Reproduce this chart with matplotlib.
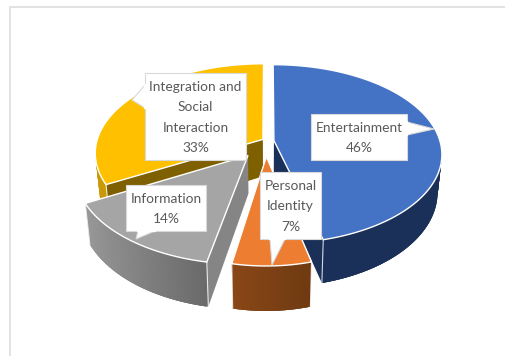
"""Exploded 3D-style pie of social media motivations."""

import matplotlib

matplotlib.use("Agg")
import matplotlib.pyplot as plt
import numpy as np
from matplotlib.colors import to_rgb

CATEGORIES = ["Entertainment", "Personal\nIdentity", "Information", "Integration and\nSocial\nInteraction"]
VALUES = [46, 7, 14, 33]

TOP_COLORS = ["#4472c4", "#ed7d31", "#a5a5a5", "#ffc000"]
WALL_LEFT = ["#1b3058", "#8a4716", "#989898", "#c99a06"]
WALL_RIGHT = ["#1b3058", "#6f3a12", "#6a6a6a", "#c99a06"]
FACE_COLORS = ["#1b3058", "#843c0c", "#858585", "#7f6000"]
EXPLODE = [0.036, 0.175, 0.2, 0.036]
WIDTH_SCALE = [1.0, 0.91, 1.0, 1.0]
NUDGE_U = [0.0, -0.015, 0.0, 0.0]

# Perspective projection of the pie plane, in pixels
CX, CY = 268.0, 141.0
RX, RY, PERSP = 166.0, 87.5, 0.151
DEPTH = 37.0
SHRINK = 0.975

# label boxes: x0, y0, x1, y1, then callout base and tip
BOXES = [
    (311, 114, 407, 160, [(407, 122), (434, 129), (407, 135)]),
    (260, 172, 321, 239, [(270, 239), (272, 265), (285, 239)]),
    (126, 185, 206, 231, [(138, 231), (136, 239), (155, 231)]),
    (145, 73, 246, 160, [(145, 85), (132, 100), (145, 108)]),
]


def project(u, v):
    denom = 1.0 + PERSP * v
    return CX + RX * u / denom, CY - RY * v / denom


def project_bottom(u, v):
    denom = 1.0 + PERSP * v
    x, y = project(u, v)
    return CX + (x - CX) * SHRINK, y + DEPTH / denom


def quad(ax, u, v, color, zorder):
    top = np.column_stack(project(u, v))
    bottom = np.column_stack(project_bottom(u, v))[::-1]
    ax.fill(*np.vstack([top, bottom]).T, color=color, lw=0, zorder=zorder)


def draw_slice(ax, idx, start, end, zorder):
    mid = (start + end) / 2
    off_u = EXPLODE[idx] * np.sin(mid) + NUDGE_U[idx]
    off_v = EXPLODE[idx] * np.cos(mid)
    scale = WIDTH_SCALE[idx]
    theta = np.linspace(start, end, 120)
    u = off_u + scale * np.sin(theta)
    v = off_v + np.cos(theta)

    # straight cut faces are only visible on some slices
    face_angle = {0: end, 2: start, 3: start}.get(idx)
    if face_angle is not None:
        fu = np.array([off_u, off_u + scale * np.sin(face_angle)])
        fv = np.array([off_v, off_v + np.cos(face_angle)])
        quad(ax, fu, fv, FACE_COLORS[idx], zorder)

    # outer wall, only on the side that faces the viewer
    front = np.where((theta >= np.pi / 2) & (theta <= 3 * np.pi / 2))[0]
    if len(front) > 1:
        c0, c1 = np.array(to_rgb(WALL_LEFT[idx])), np.array(to_rgb(WALL_RIGHT[idx]))
        # neighbouring strips overlap so no seams show in the gradient
        for k in range(len(front) - 1):
            i = front[k]
            frac = (u[i] - u[front].min()) / (u[front].max() - u[front].min())
            quad(ax, u[i:i + 4], v[i:i + 4], c0 + (c1 - c0) * frac, zorder)
        for i in (front[0], front[-1]):
            if theta[i] in (start, end):
                xs = [project(u[i], v[i])[0], project_bottom(u[i], v[i])[0]]
                ys = [project(u[i], v[i])[1], project_bottom(u[i], v[i])[1]]
                ax.plot(xs, ys, color="white", lw=0.8, alpha=0.8, zorder=zorder)

    outline_u = np.r_[off_u, u]
    outline_v = np.r_[off_v, v]
    ax.fill(*project(outline_u, outline_v), facecolor=TOP_COLORS[idx], edgecolor="white", lw=1.0,
            joinstyle="miter", zorder=zorder)


def main():
    plt.rcParams["font.family"] = ["Lato", "DejaVu Sans"]
    fig = plt.figure(figsize=(5.05, 3.56), dpi=100)
    ax = fig.add_axes([0, 0, 1, 1])
    ax.set_xlim(0, 505)
    ax.set_ylim(356, 0)
    ax.set_axis_off()

    # chart frame, cut off on the right and at the bottom
    ax.plot([10, 10, 505], [356, 7, 7], color="#dddddd", lw=1.2, zorder=0)

    fractions = np.array(VALUES) / sum(VALUES)
    edges = np.r_[0.0, np.cumsum(fractions)] * 2 * np.pi

    for zorder, idx in enumerate([3, 0, 2, 1], start=1):
        draw_slice(ax, idx, edges[idx], edges[idx + 1], zorder)

    for name, value, (x0, y0, x1, y1, pointer) in zip(CATEGORIES, VALUES, BOXES):
        px, py = zip(*pointer)
        ax.fill([x0, x1, x1, x0], [y0, y0, y1, y1], facecolor="white", edgecolor="#d9d9d9", lw=0.8, zorder=10)
        ax.fill(px, py, facecolor="white", edgecolor="#d9d9d9", lw=0.8, zorder=10)
        ax.plot([pointer[0][0], pointer[2][0]], [pointer[0][1], pointer[2][1]], color="white", lw=1.6, zorder=11)
        ax.text((x0 + x1) / 2, (y0 + y1) / 2 + 1.0, f"{name}\n{value}%", ha="center", va="center",
                fontsize=9.9, color="#595959", linespacing=1.84, zorder=12)

    fig.savefig("out.png", dpi=100)
    plt.close(fig)


if __name__ == "__main__":
    main()
